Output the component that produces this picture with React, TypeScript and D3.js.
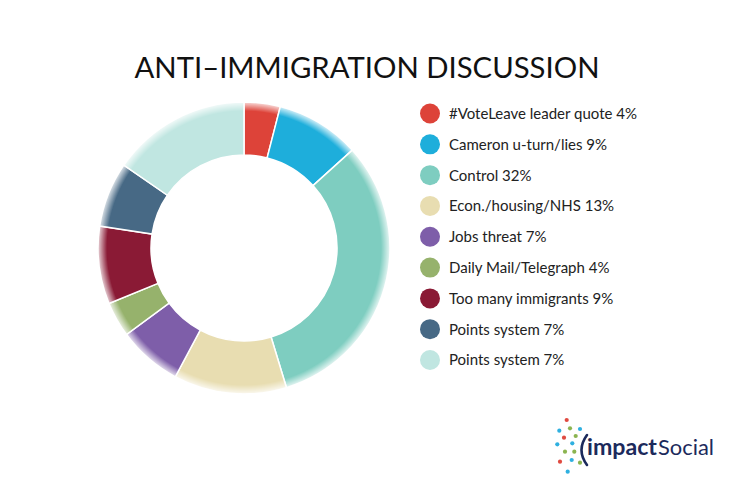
import React from "react";
import * as d3 from "d3";

const categories = [
  "#VoteLeave leader quote",
  "Cameron u-turn/lies",
  "Control",
  "Econ./housing/NHS",
  "Jobs threat",
  "Daily Mail/Telegraph",
  "Too many immigrants",
  "Points system",
  "Points system",
];
// percentages printed in the legend
const legendPercents = [4, 9, 32, 13, 7, 4, 9, 7, 7];
// slice sizes as drawn in the donut
const sliceValues = [4, 9.3, 32, 12.5, 7.1, 3.9, 8.6, 7.2, 15.4];
const colors = [
  "#dd4339",
  "#1eaedb",
  "#7ecdc0",
  "#e8ddb1",
  "#7e5ea9",
  "#96b26c",
  "#8a1a35",
  "#476985",
  "#c0e6e1",
];
const title = "ANTI\u2013IMMIGRATION DISCUSSION";

type LogoDot = { x: number; y: number; c: string };
const logoDots: LogoDot[] = [
  { x: 566.7, y: 420, c: "#e04a40" },
  { x: 559.3, y: 430.7, c: "#2fb0e0" },
  { x: 570, y: 428.3, c: "#8bb450" },
  { x: 580, y: 429, c: "#2fb0e0" },
  { x: 564, y: 437.7, c: "#e04a40" },
  { x: 575.7, y: 436, c: "#8bb450" },
  { x: 557.3, y: 444.3, c: "#2fb0e0" },
  { x: 572.3, y: 443.3, c: "#2fb0e0" },
  { x: 565, y: 451.7, c: "#8bb450" },
  { x: 574.3, y: 451.7, c: "#8bb450" },
  { x: 560, y: 461.7, c: "#e04a40" },
  { x: 571.7, y: 460, c: "#2fb0e0" },
  { x: 580, y: 462.7, c: "#8bb450" },
  { x: 567.7, y: 471.7, c: "#2fb0e0" },
];

const W = 736;
const H = 491;
const cx = 244;
const cy = 248;
const rOuter = 146;
const rInner = 93;

export default function App() {
  const pie = d3
    .pie<number>()
    .sort(null)
    .value((d) => d)(sliceValues);
  const arc = d3
    .arc<d3.PieArcDatum<number>>()
    .innerRadius(rInner)
    .outerRadius(rOuter);

  const legendY = d3
    .scalePoint<number>()
    .domain(d3.range(categories.length))
    .range([113.5, 360]);

  const fadeStart = (rOuter - 9) / (rOuter + 2);

  return (
    <svg
      width={W}
      height={H}
      style={{ position: "absolute", left: 0, top: 0, background: "#fff" }}
    >
      <defs>
        <radialGradient
          id="fade"
          gradientUnits="userSpaceOnUse"
          cx={cx}
          cy={cy}
          r={rOuter + 2}
        >
          <stop offset={0} stopColor="#fff" />
          <stop offset={fadeStart} stopColor="#fff" />
          <stop offset={1} stopColor="#000" />
        </radialGradient>
        <mask id="donutMask" maskUnits="userSpaceOnUse" x={0} y={0} width={W} height={H}>
          <rect x={0} y={0} width={W} height={H} fill="url(#fade)" />
        </mask>
      </defs>
      <rect x={0} y={0} width={W} height={H} fill="#fff" />
      <text
        x={367}
        y={78}
        textAnchor="middle"
        fontFamily="Lato, 'Noto Sans', sans-serif"
        fontSize={28}
        fill="#111"
        textLength={465}
        lengthAdjust="spacingAndGlyphs"
      >
        {title}
      </text>

      <g mask="url(#donutMask)">
        <g transform={`translate(${cx},${cy})`}>
          {pie.map((p, i) => (
            <path
              key={i}
              d={arc(p) || ""}
              fill={colors[i]}
              stroke="#fff"
              strokeWidth={1.5}
            />
          ))}
        </g>
      </g>

      <g>
        {categories.map((c, i) => (
          <g key={i} transform={`translate(0,${legendY(i)})`}>
            <circle cx={430} cy={0} r={10} fill={colors[i]} />
            <text
              x={449}
              y={0}
              dy="0.36em"
              fontFamily="Lato, 'Noto Sans', sans-serif"
              fontSize={15}
              fill="#222"
            >
              {`${c} ${legendPercents[i]}%`}
            </text>
          </g>
        ))}
      </g>

      <g>
        {logoDots.map((d, i) => (
          <circle key={i} cx={d.x} cy={d.y} r={2.1} fill={d.c} />
        ))}
        <path
          d="M587,435 Q576,450 587,465"
          fill="none"
          stroke="#1c2a5c"
          strokeWidth={2.6}
          strokeLinecap="round"
        />
        <text
          x={587}
          y={455}
          fontFamily="Lato, 'Noto Sans', sans-serif"
          fontSize={22}
          fill="#1c2a5c"
          fontWeight={700}
          textLength={70}
          lengthAdjust="spacingAndGlyphs"
        >
          impact
        </text>
        <text
          x={658}
          y={455}
          fontFamily="Lato, 'Noto Sans', sans-serif"
          fontSize={22}
          fill="#1c2a5c"
          textLength={56}
          lengthAdjust="spacingAndGlyphs"
        >
          Social
        </text>
      </g>
    </svg>
  );
}
